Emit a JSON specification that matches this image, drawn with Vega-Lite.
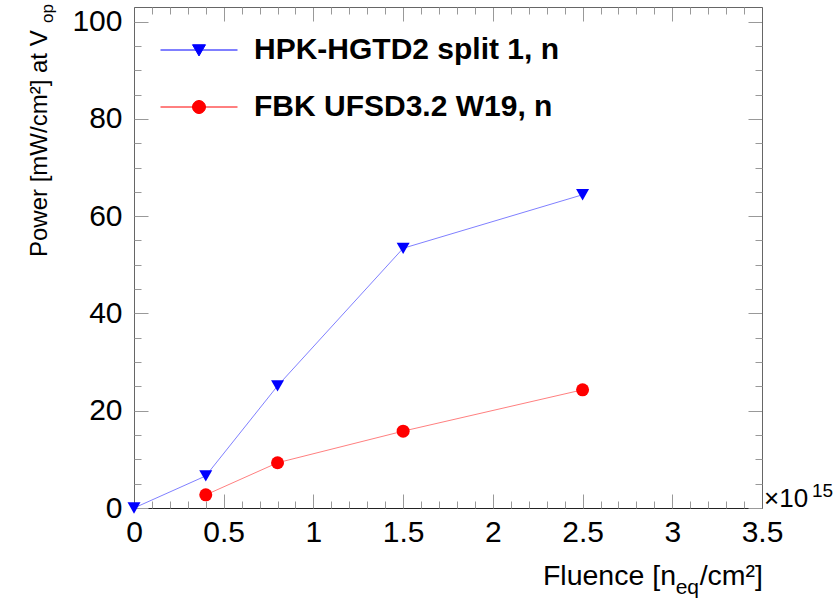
{
  "$schema": "https://vega.github.io/schema/vega-lite/v6.json",
  "width": 628,
  "height": 501,
  "autosize": {"type": "none"},
  "padding": {"left": 134, "top": 7, "right": 72, "bottom": 90},
  "background": "white",
  "config": {
    "view": {"stroke": null},
    "font": "Liberation Sans",
    "axis": {"grid": false, "title": null, "labelFont": "Liberation Sans", "labelColor": "#000", "tickColor": "#999", "domainColor": "#666"},
    "legend": {"labelLimit": 1000},
    "text": {"font": "Liberation Sans", "color": "#000", "fontWeight": "normal"}
  },
  "datasets": {
    "points": [
      {"series": "HPK-HGTD2 split 1, n", "fluence": 0.0, "power": 0.0},
      {"series": "HPK-HGTD2 split 1, n", "fluence": 0.4, "power": 6.6},
      {"series": "HPK-HGTD2 split 1, n", "fluence": 0.8, "power": 25.1},
      {"series": "HPK-HGTD2 split 1, n", "fluence": 1.5, "power": 53.4},
      {"series": "HPK-HGTD2 split 1, n", "fluence": 2.5, "power": 64.4},
      {"series": "FBK UFSD3.2 W19, n", "fluence": 0.4, "power": 2.7},
      {"series": "FBK UFSD3.2 W19, n", "fluence": 0.8, "power": 9.3},
      {"series": "FBK UFSD3.2 W19, n", "fluence": 1.5, "power": 15.8},
      {"series": "FBK UFSD3.2 W19, n", "fluence": 2.5, "power": 24.3}
    ]
  },
  "data": {"name": "points"},
  "resolve": {"axis": {"x": "independent", "y": "independent"}},
  "layer": [
    {
      "transform": [{"filter": "datum.series === 'HPK-HGTD2 split 1, n'"}],
      "mark": {"type": "line", "strokeWidth": 1, "opacity": 0.5, "color": "#0000ff"},
      "encoding": {
        "x": {"field": "fluence", "type": "quantitative", "scale": {"domain": [0, 3.5], "nice": false, "zero": false},
              "axis": {"orient": "bottom", "values": [0, 0.5, 1, 1.5, 2, 2.5, 3, 3.5], "format": "~g", "ticks": false, "domain": true, "domainColor": "#222", "labelFontSize": 30, "labelPadding": 9, "labelFlush": false, "labelOverlap": false, "title": null}},
        "y": {"field": "power", "type": "quantitative", "scale": {"domain": [0, 103], "nice": false, "zero": false},
              "axis": {"orient": "left", "values": [0, 20, 40, 60, 80, 100], "ticks": false, "domain": true, "labelFontSize": 30, "labelPadding": 12, "labelFlush": false, "labelOverlap": false, "title": null}}
      }
    },
    {
      "transform": [{"filter": "datum.series === 'FBK UFSD3.2 W19, n'"}],
      "mark": {"type": "line", "strokeWidth": 1, "opacity": 0.5, "color": "#ff0000"},
      "encoding": {
        "x": {"field": "fluence", "type": "quantitative", "scale": {"domain": [0, 3.5], "nice": false, "zero": false}, "axis": null},
        "y": {"field": "power", "type": "quantitative", "scale": {"domain": [0, 103], "nice": false, "zero": false}, "axis": null}
      }
    },
    {
      "transform": [{"filter": "datum.series === 'HPK-HGTD2 split 1, n'"}],
      "mark": {"type": "point", "shape": "triangle-down", "filled": true, "size": 169, "opacity": 1, "color": "#0000ff", "strokeWidth": 0},
      "encoding": {
        "x": {"field": "fluence", "type": "quantitative", "scale": {"domain": [0, 3.5], "nice": false, "zero": false},
              "axis": {"orient": "bottom", "values": [0, 0.5, 1, 1.5, 2, 2.5, 3, 3.5], "labels": false, "domain": false, "tickSize": -14, "title": null}},
        "y": {"field": "power", "type": "quantitative", "scale": {"domain": [0, 103], "nice": false, "zero": false},
              "axis": {"orient": "left", "values": [0, 20, 40, 60, 80, 100], "labels": false, "domain": false, "tickSize": -14, "title": null}}
      }
    },
    {
      "transform": [{"filter": "datum.series === 'FBK UFSD3.2 W19, n'"}],
      "mark": {"type": "point", "shape": "circle", "filled": true, "size": 169, "opacity": 1, "color": "#ff0000", "strokeWidth": 0},
      "encoding": {
        "x": {"field": "fluence", "type": "quantitative", "scale": {"domain": [0, 3.5], "nice": false, "zero": false},
              "axis": {"orient": "bottom", "values": [0.1, 0.2, 0.3, 0.4, 0.6, 0.7, 0.8, 0.9, 1.1, 1.2, 1.3, 1.4, 1.6, 1.7, 1.8, 1.9, 2.1, 2.2, 2.3, 2.4, 2.6, 2.7, 2.8, 2.9, 3.1, 3.2, 3.3, 3.4], "labels": false, "domain": false, "tickSize": -7, "title": null}},
        "y": {"field": "power", "type": "quantitative", "scale": {"domain": [0, 103], "nice": false, "zero": false},
              "axis": {"orient": "left", "values": [5, 10, 15, 25, 30, 35, 45, 50, 55, 65, 70, 75, 85, 90, 95], "labels": false, "domain": false, "tickSize": -7, "title": null}}
      }
    },
    {
      "mark": {"type": "point", "filled": true, "size": 0, "strokeWidth": 1, "strokeOpacity": 0.55},
      "encoding": {
        "x": {"field": "fluence", "type": "quantitative", "scale": {"domain": [0, 3.5], "nice": false, "zero": false},
              "axis": {"orient": "top", "values": [0, 0.5, 1, 1.5, 2, 2.5, 3, 3.5], "labels": false, "domain": true, "tickSize": -14, "title": null}},
        "y": {"field": "power", "type": "quantitative", "scale": {"domain": [0, 103], "nice": false, "zero": false},
              "axis": {"orient": "right", "values": [0, 20, 40, 60, 80, 100], "labels": false, "domain": true, "tickSize": -14, "title": null}},
        "color": {"field": "series", "type": "nominal",
                  "scale": {"domain": ["HPK-HGTD2 split 1, n", "FBK UFSD3.2 W19, n"], "range": ["#0000ff", "#ff0000"]},
                  "legend": {"orient": "none", "legendX": 50, "legendY": 28, "title": null, "direction": "vertical",
                             "symbolSize": 196, "symbolOpacity": 1, "symbolStrokeWidth": 1, "labelLimit": 1000,
                             "labelFont": "Liberation Sans", "labelFontSize": 30, "labelFontWeight": "bold", "labelColor": "#000",
                             "labelOffset": 40, "rowPadding": 27, "padding": 0}},
        "stroke": {"field": "series", "type": "nominal",
                  "scale": {"domain": ["HPK-HGTD2 split 1, n", "FBK UFSD3.2 W19, n"], "range": ["#0000ff", "#ff0000"]},
                  "legend": {"orient": "none", "legendX": 50, "legendY": 28, "title": null, "direction": "vertical",
                             "symbolSize": 196, "symbolOpacity": 1, "symbolStrokeWidth": 1, "labelLimit": 1000,
                             "labelFont": "Liberation Sans", "labelFontSize": 30, "labelFontWeight": "bold", "labelColor": "#000",
                             "labelOffset": 40, "rowPadding": 27, "padding": 0}},
        "shape": {"field": "series", "type": "nominal",
                  "scale": {"domain": ["HPK-HGTD2 split 1, n", "FBK UFSD3.2 W19, n"],
                            "range": ["M -5.5 0 L 5.5 0 M -0.93 -0.75 L 0.93 -0.75 L 0 0.85 Z", "M -5.5 0 L 5.5 0 M 0.93 0 A 0.93 0.93 0 1 1 -0.93 0 A 0.93 0.93 0 1 1 0.93 0 Z"]},
                  "legend": {"orient": "none", "legendX": 50, "legendY": 28, "title": null, "direction": "vertical",
                             "symbolSize": 196, "symbolOpacity": 1, "symbolStrokeWidth": 1, "labelLimit": 1000,
                             "labelFont": "Liberation Sans", "labelFontSize": 30, "labelFontWeight": "bold", "labelColor": "#000",
                             "labelOffset": 40, "rowPadding": 27, "padding": 0}}
      }
    },
    {
      "mark": {"type": "point", "opacity": 0},
      "encoding": {
        "x": {"field": "fluence", "type": "quantitative", "scale": {"domain": [0, 3.5], "nice": false, "zero": false},
              "axis": {"orient": "top", "values": [0.1, 0.2, 0.3, 0.4, 0.6, 0.7, 0.8, 0.9, 1.1, 1.2, 1.3, 1.4, 1.6, 1.7, 1.8, 1.9, 2.1, 2.2, 2.3, 2.4, 2.6, 2.7, 2.8, 2.9, 3.1, 3.2, 3.3, 3.4], "labels": false, "domain": false, "tickSize": -7, "title": null}},
        "y": {"field": "power", "type": "quantitative", "scale": {"domain": [0, 103], "nice": false, "zero": false},
              "axis": {"orient": "right", "values": [5, 10, 15, 25, 30, 35, 45, 50, 55, 65, 70, 75, 85, 90, 95], "labels": false, "domain": false, "tickSize": -7, "title": null}}
      }
    },
    {
      "data": {"values": [{"t": "×10", "x": 3.5, "y": 0}]},
      "mark": {"type": "text", "fontSize": 26, "fontWeight": "normal", "align": "left", "baseline": "alphabetic", "dx": 2, "dy": -1},
      "encoding": {
        "text": {"field": "t"},
        "x": {"field": "x", "type": "quantitative", "scale": {"domain": [0, 3.5], "nice": false, "zero": false}, "axis": null},
        "y": {"field": "y", "type": "quantitative", "scale": {"domain": [0, 103], "nice": false, "zero": false}, "axis": null}
      }
    },
    {
      "data": {"values": [{"t": "15", "x": 3.5, "y": 0}]},
      "mark": {"type": "text", "fontSize": 19, "fontWeight": "normal", "align": "left", "baseline": "alphabetic", "dx": 50, "dy": -11},
      "encoding": {
        "text": {"field": "t"},
        "x": {"field": "x", "type": "quantitative", "scale": {"domain": [0, 3.5], "nice": false, "zero": false}, "axis": null},
        "y": {"field": "y", "type": "quantitative", "scale": {"domain": [0, 103], "nice": false, "zero": false}, "axis": null}
      }
    },
    {
      "data": {"values": [{"t": "/cm²]", "x": 3.5, "y": 0}]},
      "mark": {"type": "text", "fontSize": 28.5, "fontWeight": "normal", "align": "right", "baseline": "alphabetic", "dx": 1, "dy": 77},
      "encoding": {
        "text": {"field": "t"},
        "x": {"field": "x", "type": "quantitative", "scale": {"domain": [0, 3.5], "nice": false, "zero": false}, "axis": null},
        "y": {"field": "y", "type": "quantitative", "scale": {"domain": [0, 103], "nice": false, "zero": false}, "axis": null}
      }
    },
    {
      "data": {"values": [{"t": "eq", "x": 3.5, "y": 0}]},
      "mark": {"type": "text", "fontSize": 21, "fontWeight": "normal", "align": "right", "baseline": "alphabetic", "dx": -63, "dy": 86},
      "encoding": {
        "text": {"field": "t"},
        "x": {"field": "x", "type": "quantitative", "scale": {"domain": [0, 3.5], "nice": false, "zero": false}, "axis": null},
        "y": {"field": "y", "type": "quantitative", "scale": {"domain": [0, 103], "nice": false, "zero": false}, "axis": null}
      }
    },
    {
      "data": {"values": [{"t": "Fluence [n", "x": 3.5, "y": 0}]},
      "mark": {"type": "text", "fontSize": 28.5, "fontWeight": "normal", "align": "right", "baseline": "alphabetic", "dx": -86, "dy": 77},
      "encoding": {
        "text": {"field": "t"},
        "x": {"field": "x", "type": "quantitative", "scale": {"domain": [0, 3.5], "nice": false, "zero": false}, "axis": null},
        "y": {"field": "y", "type": "quantitative", "scale": {"domain": [0, 103], "nice": false, "zero": false}, "axis": null}
      }
    },
    {
      "data": {"values": [{"t": "Power [mW/cm²] at V", "x": 0, "y": 0}]},
      "mark": {"type": "text", "fontSize": 24, "fontWeight": "normal", "angle": 270, "align": "left", "baseline": "alphabetic", "dx": 251, "dy": -87},
      "encoding": {
        "text": {"field": "t"},
        "x": {"field": "x", "type": "quantitative", "scale": {"domain": [0, 3.5], "nice": false, "zero": false}, "axis": null},
        "y": {"field": "y", "type": "quantitative", "scale": {"domain": [0, 103], "nice": false, "zero": false}, "axis": null}
      }
    },
    {
      "data": {"values": [{"t": "op", "x": 0, "y": 0}]},
      "mark": {"type": "text", "fontSize": 17, "fontWeight": "normal", "angle": 270, "align": "left", "baseline": "alphabetic", "dx": 485, "dy": -81},
      "encoding": {
        "text": {"field": "t"},
        "x": {"field": "x", "type": "quantitative", "scale": {"domain": [0, 3.5], "nice": false, "zero": false}, "axis": null},
        "y": {"field": "y", "type": "quantitative", "scale": {"domain": [0, 103], "nice": false, "zero": false}, "axis": null}
      }
    }
  ]
}
